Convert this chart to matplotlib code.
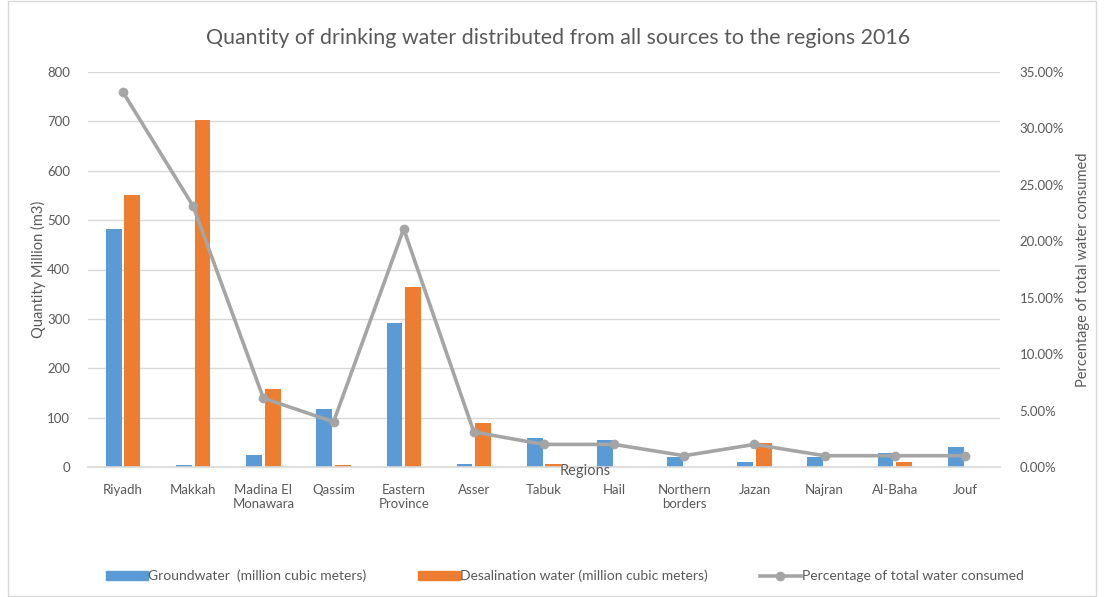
import matplotlib.pyplot as plt
import matplotlib.patches as mpatches
from matplotlib.lines import Line2D
from matplotlib.ticker import FuncFormatter
import numpy as np

regions = ["Riyadh", "Makkah", "Madina El\nMonawara", "Qassim", "Eastern\nProvince",
           "Asser", "Tabuk", "Hail", "Northern\nborders", "Jazan", "Najran", "Al-Baha", "Jouf"]
groundwater = [482, 5, 24, 117, 292, 7, 58, 55, 21, 11, 21, 28, 41]
desalination = [551, 702, 158, 4, 364, 89, 7, 0, 0, 49, 0, 11, 0]
pct_consumed = [33.2, 23.1, 6.1, 4.0, 21.1, 3.1, 2.0, 2.0, 1.0, 2.0, 1.0, 1.0, 1.0]

BLUE = "#5b9bd5"
ORANGE = "#ed7d31"
GRAY = "#a5a5a5"
TXT = "#595959"

plt.rcParams['font.family'] = ['Lato', 'DejaVu Sans']

fig = plt.figure(figsize=(11.04, 5.97), dpi=100)
ax = fig.add_axes([88/1104, 1 - 467/597, (1000-88)/1104, (467-72)/597])
ax2 = ax.twinx()

x = np.arange(len(regions))
w = 0.225
ax.bar(x - w/2 - 0.02, groundwater, width=w, color=BLUE, zorder=2)
ax.bar(x + w/2 + 0.02, desalination, width=w, color=ORANGE, zorder=2)
ax2.plot(x, pct_consumed, color=GRAY, lw=2.6, marker='o', ms=6, zorder=3)

ax.set_xlim(-0.5, len(regions) - 0.5)
ax.set_ylim(0, 800)
ax.set_yticks(range(0, 801, 100))
ax2.set_ylim(0, 35)
ax2.set_yticks(np.arange(0, 35.1, 5))
ax2.yaxis.set_major_formatter(FuncFormatter(lambda v, p: f"{v:.2f}%"))

ax.grid(axis='y', color='#d9d9d9', lw=1, zorder=0)
ax.set_axisbelow(True)
for a in (ax, ax2):
    for s in a.spines.values():
        s.set_visible(False)
ax.spines['bottom'].set_visible(True)
ax.spines['bottom'].set_color('#d9d9d9')
ax.spines['bottom'].set_linewidth(1.2)

ax.set_xticks(x)
ax.set_xticklabels(regions, fontsize=9.5, color=TXT, va='top', linespacing=1.25)
ax.tick_params(axis='x', length=0, pad=12)
ax.tick_params(axis='y', length=0, labelsize=9.5, labelcolor=TXT, pad=13)
ax2.tick_params(axis='y', length=0, labelsize=9.5, labelcolor=TXT, pad=14)

ax.set_ylabel("Quantity Million (m3)", fontsize=10.5, color=TXT, labelpad=1)
ax2.set_ylabel("Percentage of total water consumed", fontsize=10.5, color=TXT, labelpad=9)
ax.text(0.545, -0.01, "Regions", transform=ax.transAxes, fontsize=10.5, color=TXT,
        ha='center', va='center')

fig.text(558/1104, 1 - 38/597, "Quantity of drinking water distributed from all sources to the regions 2016",
         fontsize=15.4, color=TXT, ha='center', va='center')

handles = [mpatches.Patch(color=BLUE), mpatches.Patch(color=ORANGE),
           Line2D([0], [0], color=GRAY, lw=2.6, marker='o', ms=6)]
labels = ["Groundwater  (million cubic meters)", "Desalination water (million cubic meters)",
          "Percentage of total water consumed"]
fig.legend(handles, labels, loc='center', bbox_to_anchor=(565/1104, 1 - 576/597), ncol=3,
           frameon=False, fontsize=10, labelcolor=TXT, handlelength=3.0, handleheight=0.6,
           handletextpad=0.05, columnspacing=3.7)

fig.patches.append(mpatches.Rectangle((8/1104, 0.002), 1088/1104, 0.996, transform=fig.transFigure,
                                      fill=False, edgecolor='#d9d9d9', lw=1))

fig.savefig("out.png", dpi=100)
